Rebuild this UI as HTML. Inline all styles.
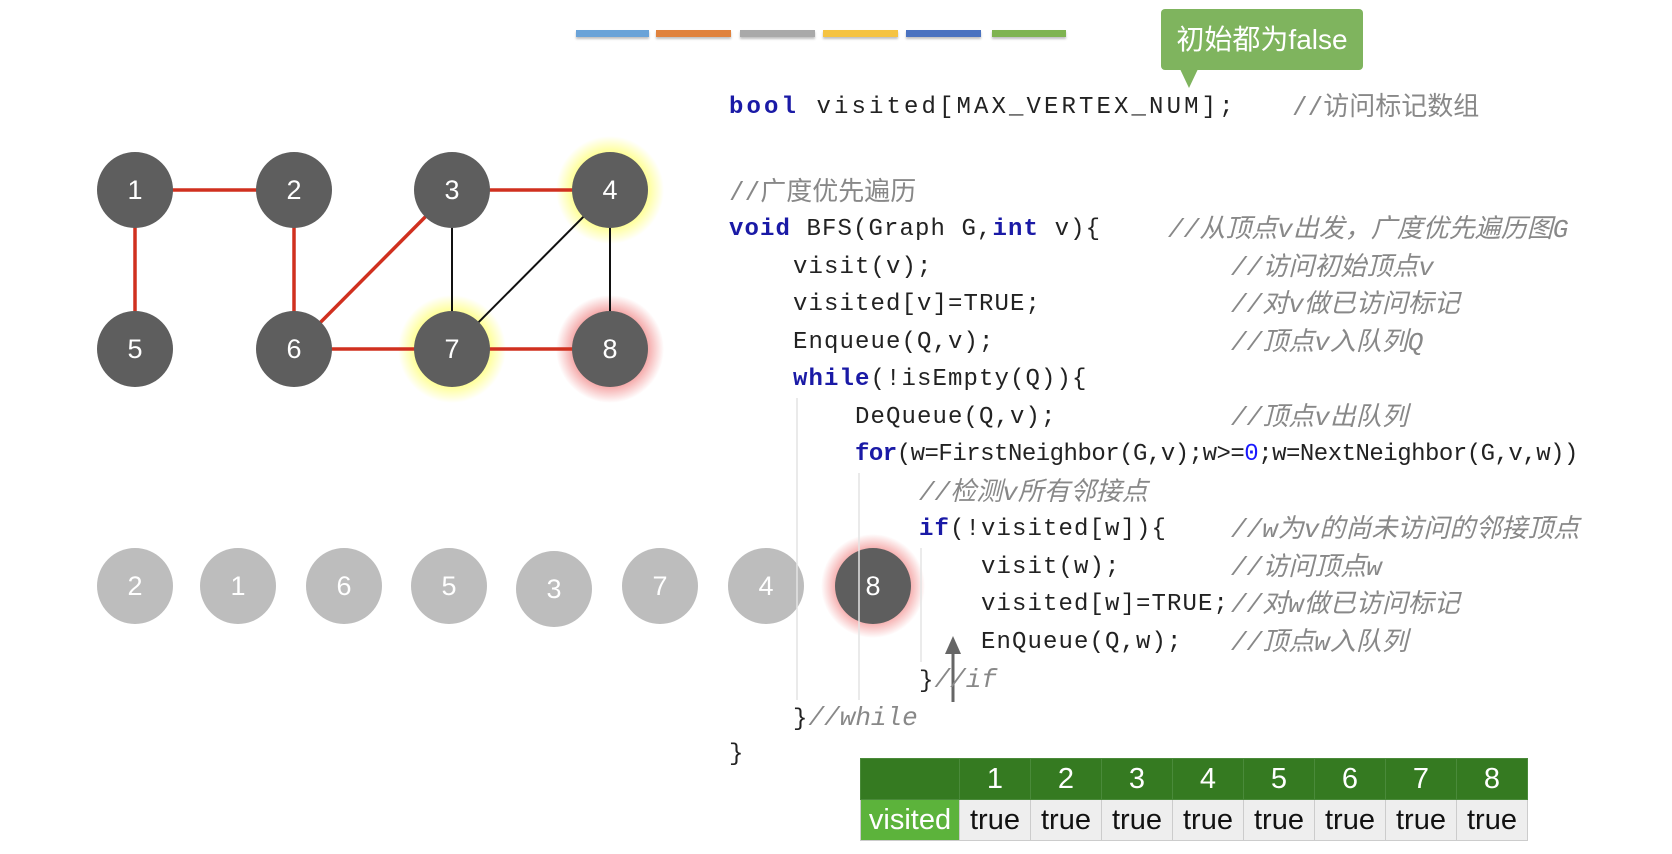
<!DOCTYPE html>
<html><head><meta charset="utf-8"><style>
body{margin:0;width:1672px;height:854px;background:#fff;position:relative;overflow:hidden;font-family:"Liberation Sans","Noto Sans CJK SC",sans-serif}
.l{position:absolute;height:38px;line-height:38px;font-family:"Liberation Mono","Noto Sans CJK SC",monospace;font-size:24px;letter-spacing:1.1px;color:#222;white-space:pre}
.k{color:#1a1aa6;font-weight:bold}
.c{color:#888;font-size:26px;letter-spacing:0}
.i{color:#888;font-style:italic;font-size:26px;letter-spacing:0}
.n{color:#1a1aff}
.bar{position:absolute;top:30px;height:7px;box-shadow:0 2px 2px rgba(0,0,0,.25)}
table{position:absolute;left:860px;top:758px;border-collapse:collapse;font-size:29px}
td{border:1px solid #ccc;text-align:center;padding:0;height:40px;width:70px}
tr.h td{background:#357a21;color:#fff;border-color:#4a8a3a}
tr.r td{background:#eee;color:#111}
</style></head><body>
<div class="bar" style="left:576px;width:73px;background:#6aa3d8"></div>
<div class="bar" style="left:656px;width:75px;background:#e0823d"></div>
<div class="bar" style="left:740px;width:75px;background:#a9a9a9"></div>
<div class="bar" style="left:823px;width:75px;background:#f5c342"></div>
<div class="bar" style="left:906px;width:75px;background:#4a72c0"></div>
<div class="bar" style="left:992px;width:74px;background:#7fb451"></div>

<div style="position:absolute;left:1161px;top:9px;width:202px;height:61px;background:#7fb45e;border-radius:4px;color:#fff;font-size:28px;line-height:61px;text-align:center">初始都为false</div>
<div style="position:absolute;left:1180px;top:69px;width:0;height:0;border-left:9px solid transparent;border-right:9px solid transparent;border-top:19px solid #7fb45e"></div>

<svg width="1672" height="854" style="position:absolute;left:0;top:0">
<defs>
<radialGradient id="gy"><stop offset="0.55" stop-color="#ffff66" stop-opacity="1"/><stop offset="1" stop-color="#ffff66" stop-opacity="0"/></radialGradient>
<radialGradient id="gr"><stop offset="0.55" stop-color="#f08080" stop-opacity="1"/><stop offset="1" stop-color="#f08080" stop-opacity="0"/></radialGradient>
</defs>
<circle cx="610" cy="190" r="54" fill="url(#gy)"/>
<circle cx="452" cy="349" r="54" fill="url(#gy)"/>
<circle cx="610" cy="349" r="54" fill="url(#gr)"/>
<circle cx="873" cy="586" r="52" fill="url(#gr)"/>
<g stroke="#d0301f" stroke-width="3.5">
<line x1="135" y1="190" x2="294" y2="190"/><line x1="135" y1="190" x2="135" y2="349"/>
<line x1="294" y1="190" x2="294" y2="349"/><line x1="294" y1="349" x2="452" y2="190"/>
<line x1="452" y1="190" x2="610" y2="190"/><line x1="294" y1="349" x2="610" y2="349"/>
</g>
<g stroke="#111" stroke-width="2">
<line x1="452" y1="190" x2="452" y2="349"/><line x1="452" y1="349" x2="610" y2="190"/><line x1="610" y1="190" x2="610" y2="349"/>
</g>
<g fill="#5e5e5e">
<circle cx="135" cy="190" r="38"/><circle cx="294" cy="190" r="38"/><circle cx="452" cy="190" r="38"/><circle cx="610" cy="190" r="38"/>
<circle cx="135" cy="349" r="38"/><circle cx="294" cy="349" r="38"/><circle cx="452" cy="349" r="38"/><circle cx="610" cy="349" r="38"/>
</g>
<g fill="#fff" font-family="Liberation Sans" font-size="27" text-anchor="middle">
<text x="135" y="199">1</text><text x="294" y="199">2</text><text x="452" y="199">3</text><text x="610" y="199">4</text>
<text x="135" y="358">5</text><text x="294" y="358">6</text><text x="452" y="358">7</text><text x="610" y="358">8</text>
</g>
<g fill="#bdbdbd">
<circle cx="135" cy="586" r="38"/><circle cx="238" cy="586" r="38"/><circle cx="344" cy="586" r="38"/><circle cx="449" cy="586" r="38"/>
<circle cx="554" cy="589" r="38"/><circle cx="660" cy="586" r="38"/><circle cx="766" cy="586" r="38"/>
</g>
<circle cx="873" cy="586" r="38" fill="#5e5e5e"/>
<g fill="#fff" font-family="Liberation Sans" font-size="27" text-anchor="middle">
<text x="135" y="595">2</text><text x="238" y="595">1</text><text x="344" y="595">6</text><text x="449" y="595">5</text>
<text x="554" y="598">3</text><text x="660" y="595">7</text><text x="766" y="595">4</text><text x="873" y="595">8</text>
</g>
<line x1="797" y1="398" x2="797" y2="700" stroke="#e4e4e4" stroke-width="1.5"/>
<line x1="859" y1="473" x2="859" y2="700" stroke="#e4e4e4" stroke-width="1.5"/>
<line x1="921" y1="548" x2="921" y2="662" stroke="#e4e4e4" stroke-width="1.5"/>
<line x1="953" y1="702" x2="953" y2="650" stroke="#666" stroke-width="3"/>
<polygon points="953,636 945,654 961,654" fill="#666"/>
</svg>

<div class="l" style="left:729px;top:89px;letter-spacing:3.1px"><span class="k">bool</span> visited[MAX_VERTEX_NUM];</div>
<div class="l c" style="left:1292px;top:89px">//访问标记数组</div>
<div class="l c" style="left:729px;top:174px">//广度优先遍历</div>
<div class="l" style="left:729px;top:211px"><span class="k">void</span> BFS(Graph G,<span class="k">int</span> v){</div>
<div class="l i" style="left:1168px;top:211px">//从顶点v出发，广度优先遍历图G</div>
<div class="l" style="left:793px;top:249px">visit(v);</div><div class="l i" style="left:1231px;top:249px">//访问初始顶点v</div>
<div class="l" style="left:793px;top:286px">visited[v]=TRUE;</div><div class="l i" style="left:1231px;top:286px">//对v做已访问标记</div>
<div class="l" style="left:793px;top:324px">Enqueue(Q,v);</div><div class="l i" style="left:1231px;top:324px">//顶点v入队列Q</div>
<div class="l" style="left:793px;top:361px"><span class="k">while</span>(!isEmpty(Q)){</div>
<div class="l" style="left:855px;top:399px">DeQueue(Q,v);</div><div class="l i" style="left:1231px;top:399px">//顶点v出队列</div>
<div class="l" style="left:855px;top:436px;letter-spacing:-0.5px"><span class="k">for</span>(w=FirstNeighbor(G,v);w&gt;=<span class="n">0</span>;w=NextNeighbor(G,v,w))</div>
<div class="l i" style="left:919px;top:474px">//检测v所有邻接点</div>
<div class="l" style="left:919px;top:511px"><span class="k">if</span>(!visited[w]){</div><div class="l i" style="left:1231px;top:511px">//w为v的尚未访问的邻接顶点</div>
<div class="l" style="left:981px;top:549px">visit(w);</div><div class="l i" style="left:1231px;top:549px">//访问顶点w</div>
<div class="l" style="left:981px;top:586px">visited[w]=TRUE;</div><div class="l i" style="left:1231px;top:586px">//对w做已访问标记</div>
<div class="l" style="left:981px;top:624px">EnQueue(Q,w);</div><div class="l i" style="left:1231px;top:624px">//顶点w入队列</div>
<div class="l" style="left:919px;top:661px">}<span class="i">//if</span></div>
<div class="l" style="left:793px;top:699px">}<span class="i">//while</span></div>
<div class="l" style="left:729px;top:736px">}</div>

<table>
<tr class="h"><td style="width:98px"></td><td>1</td><td>2</td><td>3</td><td>4</td><td>5</td><td>6</td><td>7</td><td>8</td></tr>
<tr class="r"><td style="background:#5cb33b;color:#fff;width:98px">visited</td><td>true</td><td>true</td><td>true</td><td>true</td><td>true</td><td>true</td><td>true</td><td>true</td></tr>
</table>
</body></html>
